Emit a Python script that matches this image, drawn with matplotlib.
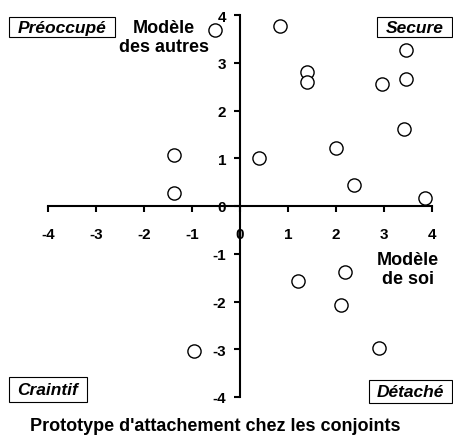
import matplotlib
matplotlib.use("Agg")
import matplotlib.pyplot as plt
from matplotlib.patches import Rectangle

plt.rcParams['font.family'] = ['Liberation Sans', 'DejaVu Sans']

# Data: (Modèle de soi, Modèle des autres)
soi = [-0.52, 0.84, 1.39, 1.39, 3.46, 3.46, 2.96, 3.41, 2.0, 0.39,
       -1.37, -1.37, 2.38, 3.86, 1.2, 2.19, 2.1, 2.9, -0.96]
autres = [3.69, 3.76, 2.80, 2.60, 3.26, 2.65, 2.56, 1.61, 1.22, 1.0,
          1.07, 0.27, 0.43, 0.16, -1.57, -1.38, -2.08, -2.98, -3.03]
ticks = [-4, -3, -2, -1, 0, 1, 2, 3, 4]
quadrants = ["Préoccupé", "Secure", "Craintif", "Détaché"]
title = "Prototype d'attachement chez les conjoints"

W, H = 453, 439
fig = plt.figure(figsize=(W / 100, H / 100), dpi=100)
ax = fig.add_axes([48 / W, 1 - 398 / H, 384 / W, 382 / H])

ax.plot(soi, autres, linestyle='none', marker='o', markersize=9.5,
        markerfacecolor='white', markeredgecolor='black', markeredgewidth=1.0,
        clip_on=False, zorder=5)

ax.set_xlim(-4, 4)
ax.set_ylim(-4, 4)
for s in ['top', 'right']:
    ax.spines[s].set_visible(False)
ax.spines['left'].set_position(('data', 0))
ax.spines['bottom'].set_position(('data', 0))
ax.spines['left'].set_linewidth(1.5)
ax.spines['bottom'].set_linewidth(1.5)
ax.set_xticks(ticks)
ax.set_yticks(ticks)
ax.set_xticklabels([str(t) for t in ticks])
ax.set_yticklabels([str(t) for t in ticks])
ax.tick_params(axis='x', direction='out', length=4, width=1.5, pad=11, labelsize=11)
ax.tick_params(axis='y', direction='out', length=4, width=1.5, pad=6, labelsize=11)
for lab in ax.get_xticklabels() + ax.get_yticklabels():
    lab.set_fontweight('bold')

def fx(px):
    return px / W

def fy(py):
    return 1 - py / H

fig.text(fx(164), fy(38), "Modèle\ndes autres", ha='center', va='center',
         fontsize=13, fontweight='bold', linespacing=1.2)
fig.text(fx(408), fy(270), "Modèle\nde soi", ha='center', va='center',
         fontsize=13, fontweight='bold', linespacing=1.2)

# quadrant label boxes (x0, y0, x1, y1) in pixels
boxes = [(9, 18, 115, 38), (377, 18, 452, 38), (9, 378, 87, 403), (369, 381, 452, 404)]
for label, (x0, y0, x1, y1) in zip(quadrants, boxes):
    fig.patches.append(Rectangle((fx(x0), fy(y1)), (x1 - x0) / W, (y1 - y0) / H,
                                 transform=fig.transFigure, facecolor='white',
                                 edgecolor='black', linewidth=0.8, zorder=1))
    fig.text(fx((x0 + x1) / 2), fy((y0 + y1) / 2 + 0.5), label, ha='center', va='center',
             fontsize=12.5, fontweight='bold', fontstyle='italic', zorder=2)

fig.text(fx(215), fy(427), title, ha='center', va='center', fontsize=13,
         fontweight='bold')

fig.savefig('out.png', dpi=100)
